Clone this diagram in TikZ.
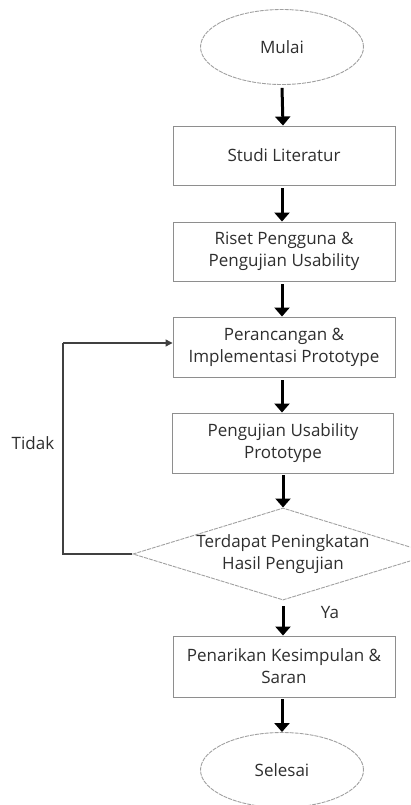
\documentclass[tikz,border=0pt]{standalone}
\usepackage{fontspec}
\setmainfont{Open Sans}
\usetikzlibrary{shapes.geometric,arrows.meta}
\definecolor{txt}{HTML}{2E2E2E}
\definecolor{boxline}{HTML}{8E8E8E}
\definecolor{ovalline}{HTML}{A0A0A0}
\tikzset{
  every node/.style={text=txt,font=\fontsize{17}{22}\selectfont},
  procbox/.style={draw=boxline,line width=0.9pt,rectangle,minimum width=222pt,minimum height=59pt,inner sep=0pt,align=center},
  terminal/.style={draw=ovalline,line width=0.9pt,dash pattern=on 4pt off 1pt,ellipse,minimum width=163pt,minimum height=75pt,inner sep=0pt},
  decision/.style={draw=ovalline,line width=0.9pt,dash pattern=on 4pt off 1pt,diamond,aspect=3.26,minimum width=300pt,minimum height=92pt,inner sep=0pt,align=center},
  flow/.style={line width=3pt,-{Triangle[width=15pt,length=9pt]},black},
  loopline/.style={line width=1.2pt,draw=black!75,-{Triangle[width=7pt,length=7pt]}},
  lbl/.style={inner sep=0pt}
}
\begin{document}
\begin{tikzpicture}[x=1pt,y=-1pt]
\useasboundingbox (0,0) rectangle (410,805);
\clip (0,0) rectangle (410,805);
\node[terminal] (mulai) at (282,47) {Mulai};
\node[procbox] (studi) at (284,155.5) {Studi Literatur};
\node[procbox] (riset) at (284,251.5) {Riset Pengguna \&\\Pengujian Usability};
\node[procbox,minimum height=60pt] (peran) at (284,347) {Perancangan \&\\Implementasi Prototype};
\node[procbox,minimum height=60pt,minimum width=221pt] (uji) at (283,443) {Pengujian Usability\\Prototype};
\node[decision] (dia) at (283,554) {Terdapat Peningkatan\\Hasil Pengujian};
\node[procbox,minimum height=61pt] (tarik) at (284,666.5) {Penarikan Kesimpulan \&\\Saran};
\node[terminal] (selesai) at (282,770) {Selesai};
\node[lbl] (tidak) at (33,443) {Tidak};
\node[lbl] (ya) at (330,613) {Ya};
\coordinate (lp) at (63,343);
\draw[flow] ([yshift=-3pt]mulai.south) -- ([xshift=1pt]mulai.south |- studi.north);
\draw[flow] ([yshift=-3pt]studi.south -| mulai.south) -- (mulai.south |- riset.north);
\draw[flow] ([yshift=-3pt]riset.south -| mulai.south) -- (mulai.south |- peran.north);
\draw[flow] ([yshift=-3pt]peran.south -| mulai.south) -- (mulai.south |- uji.north);
\draw[flow] ([yshift=-2pt]uji.south -| dia.north) -- (dia.north);
\draw[flow] ([yshift=-6pt]dia.south) -- (dia.south |- tarik.north);
\draw[flow] ([yshift=-2pt]tarik.south -| selesai.north) -- (selesai.north);
\draw[line width=1.2pt,draw=black!75] (dia.west) -| (lp);
\draw[loopline] (lp) -- (lp -| peran.west);
\end{tikzpicture}
\end{document}
